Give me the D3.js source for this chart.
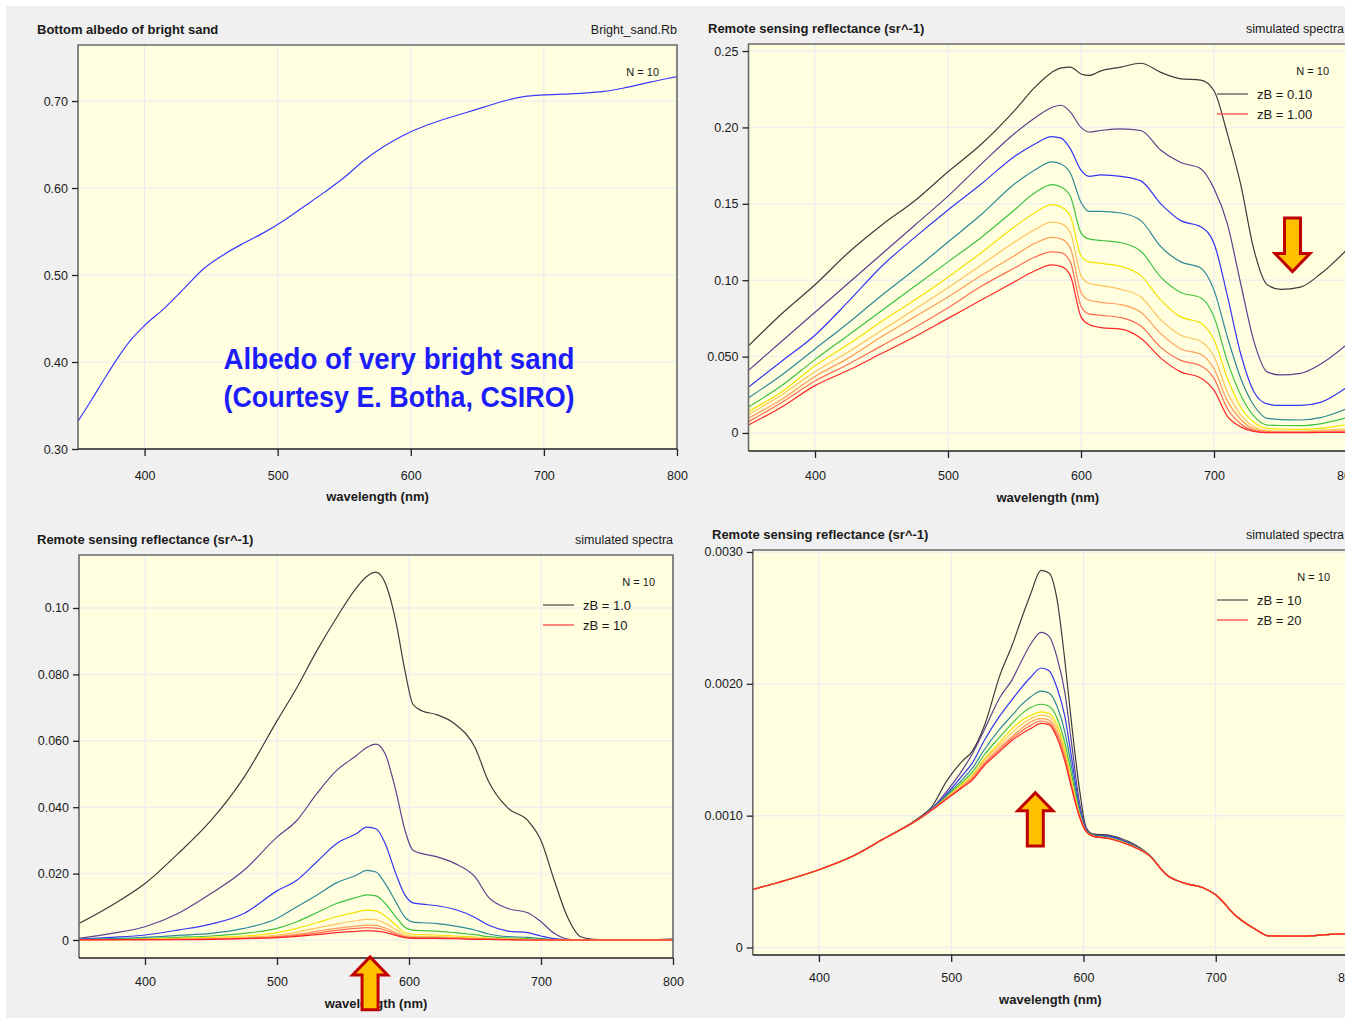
<!DOCTYPE html>
<html><head><meta charset="utf-8">
<script src="https://cdn.jsdelivr.net/npm/d3@7"></script>
<style>
body{margin:0;background:#fff}
svg{display:block}
text{font-family:"Liberation Sans",Arial,sans-serif;fill:#1a1a1a}
</style>
</head><body>
<svg id="chart" width="1345" height="1018"></svg>
<script>
// ---------- shared ----------
const X_TICKS = [400, 500, 600, 700, 800];
const SERIES_COLORS = ["#3c3c3c", "#5f3f8f", "#3535f5", "#2f8898", "#3fc23f",
                       "#f2e200", "#ffc35a", "#ff9c55", "#ff6d52", "#ff2626"];

// ---------- bottom albedo ----------
const ALB_WL = [350, 360, 370, 380, 390, 400, 415, 430, 445, 460, 475, 490, 505, 520, 535, 550,
                565, 580, 595, 610, 625, 640, 655, 670, 685, 700, 715, 730, 745, 760, 775, 790, 800];
const ALB_RB = [0.332, 0.356, 0.381, 0.405, 0.426, 0.442, 0.462, 0.485, 0.508, 0.524, 0.537, 0.549,
                0.563, 0.579, 0.595, 0.612, 0.632, 0.648, 0.661, 0.671, 0.679, 0.686, 0.693, 0.700,
                0.705, 0.707, 0.708, 0.709, 0.711, 0.715, 0.720, 0.725, 0.728];
const ALB_Y_TICKS = [0.30, 0.40, 0.50, 0.60, 0.70];
const ALB_Y_LABELS = ["0.30", "0.40", "0.50", "0.60", "0.70"];

// ---------- Rrs, zB = 0.10 ... 1.00 ----------
const SHALLOW_WL = [350, 375, 400, 425, 450, 475, 500, 525, 550, 565, 578, 585, 592, 600, 606, 615,
                    630, 645, 660, 675, 690, 700, 710, 720, 730, 740, 750, 765, 780, 800];
const SHALLOW_ZB = ["0.10", "0.20", "0.30", "0.40", "0.50", "0.60", "0.70", "0.80", "0.90", "1.00"];
const SHALLOW_1 = [0.057, 0.078, 0.097, 0.118, 0.136, 0.152, 0.171, 0.189, 0.211, 0.226, 0.236, 0.239, 0.2395, 0.235, 0.234, 0.237,
                   0.2395, 0.242, 0.236, 0.2318, 0.231, 0.224, 0.196, 0.163, 0.120, 0.097, 0.094, 0.0955, 0.104, 0.120];
const SHALLOW_2 = [0.041, 0.060, 0.079, 0.098, 0.117, 0.136, 0.155, 0.176, 0.196, 0.206, 0.213, 0.2145, 0.210, 0.200, 0.197, 0.198,
                   0.199, 0.198, 0.185, 0.177, 0.173, 0.160, 0.137, 0.098, 0.060, 0.040, 0.038, 0.039, 0.045, 0.058];
const SHALLOW_3 = [0.030, 0.047, 0.064, 0.086, 0.109, 0.128, 0.146, 0.163, 0.181, 0.189, 0.194, 0.193, 0.186, 0.172, 0.168, 0.169,
                   0.168, 0.165, 0.150, 0.139, 0.135, 0.124, 0.090, 0.052, 0.027, 0.019, 0.018, 0.018, 0.020, 0.030];
const SHALLOW_4 = [0.023, 0.038, 0.055, 0.072, 0.090, 0.107, 0.125, 0.143, 0.163, 0.172, 0.1775, 0.176, 0.170, 0.151, 0.145, 0.145,
                   0.144, 0.139, 0.122, 0.112, 0.108, 0.0935, 0.063, 0.036, 0.018, 0.0096, 0.0088, 0.0085, 0.010, 0.016];
const SHALLOW_5 = [0.017, 0.031, 0.048, 0.064, 0.080, 0.096, 0.112, 0.128, 0.146, 0.157, 0.1625, 0.161, 0.155, 0.131, 0.127, 0.126,
                   0.1245, 0.119, 0.102, 0.092, 0.0885, 0.076, 0.047, 0.025, 0.011, 0.0052, 0.0049, 0.0048, 0.006, 0.010];
const SHALLOW_6 = [0.014, 0.027, 0.044, 0.058, 0.073, 0.087, 0.102, 0.118, 0.135, 0.144, 0.1495, 0.148, 0.142, 0.116, 0.112, 0.111,
                   0.109, 0.103, 0.087, 0.076, 0.072, 0.061, 0.036, 0.017, 0.007, 0.003, 0.0026, 0.0024, 0.003, 0.0055];
const SHALLOW_7 = [0.012, 0.025, 0.040, 0.053, 0.067, 0.081, 0.095, 0.110, 0.125, 0.133, 0.138, 0.137, 0.131, 0.103, 0.098, 0.0965,
                   0.094, 0.089, 0.074, 0.064, 0.060, 0.050, 0.027, 0.012, 0.004, 0.0015, 0.0013, 0.0013, 0.0018, 0.0026];
const SHALLOW_8 = [0.0096, 0.022, 0.037, 0.049, 0.063, 0.076, 0.089, 0.103, 0.116, 0.124, 0.128, 0.127, 0.121, 0.092, 0.087, 0.0855,
                   0.084, 0.079, 0.065, 0.055, 0.0515, 0.042, 0.021, 0.009, 0.0025, 0.0009, 0.0008, 0.0008, 0.001, 0.0014];
const SHALLOW_9 = [0.0074, 0.020, 0.034, 0.045, 0.057, 0.069, 0.082, 0.096, 0.108, 0.115, 0.1185, 0.118, 0.112, 0.083, 0.078, 0.077,
                   0.0755, 0.070, 0.056, 0.0475, 0.044, 0.0357, 0.016, 0.006, 0.0015, 0.0004, 0.0004, 0.0004, 0.0006, 0.0008];
const SHALLOW_10 = [0.0052, 0.017, 0.031, 0.041, 0.052, 0.063, 0.075, 0.087, 0.099, 0.106, 0.110, 0.109, 0.103, 0.076, 0.071, 0.069,
                    0.068, 0.062, 0.049, 0.040, 0.036, 0.028, 0.011, 0.004, 0.001, 0.0002, 0.0002, 0.0002, 0.0003, 0.0004];
const SHALLOW_Y_TICKS = [0, 0.05, 0.10, 0.15, 0.20, 0.25];
const SHALLOW_Y_LABELS = ["0", "0.050", "0.10", "0.15", "0.20", "0.25"];

// ---------- Rrs, zB = 1.0 ... 10 ----------
const MID_WL = [350, 375, 400, 425, 450, 475, 500, 515, 530, 545, 560, 568, 575, 582, 590, 597, 603, 610,
                620, 635, 650, 660, 675, 690, 700, 710, 720, 730, 740, 760, 800];
const MID_ZB = ["1.0", "2.0", "3.0", "4.0", "5.0", "6.0", "7.0", "8.0", "9.0", "10"];
const MID_1 = [0.005, 0.0105, 0.017, 0.026, 0.036, 0.049, 0.066, 0.076, 0.087, 0.097, 0.106, 0.1095, 0.1108, 0.1075, 0.096, 0.081, 0.071, 0.069,
               0.068, 0.065, 0.058, 0.048, 0.0397, 0.036, 0.030, 0.018, 0.007, 0.001, 0.0002, 0.0, 0.0003];
const MID_2 = [0.0005, 0.002, 0.004, 0.008, 0.014, 0.021, 0.031, 0.036, 0.044, 0.051, 0.0555, 0.058, 0.059, 0.056, 0.045, 0.033, 0.027, 0.026,
               0.0252, 0.023, 0.019, 0.013, 0.0095, 0.0082, 0.0055, 0.002, 0.0003, 0.0, 0.0, 0.0, 0.0002];
const MID_3 = [0.0003, 0.0008, 0.0015, 0.003, 0.0048, 0.008, 0.0148, 0.018, 0.0235, 0.029, 0.032, 0.034, 0.0335, 0.029, 0.020, 0.0135, 0.0112, 0.0108,
               0.0104, 0.0092, 0.0068, 0.0045, 0.0027, 0.0022, 0.0012, 0.0004, 0.0001, 0.0, 0.0, 0.0, 0.0001];
const MID_4 = [0.0002, 0.0004, 0.0008, 0.0014, 0.002, 0.0035, 0.0065, 0.010, 0.0135, 0.0172, 0.0195, 0.021, 0.0205, 0.017, 0.0115, 0.0068, 0.0054, 0.0052,
               0.005, 0.0042, 0.003, 0.0018, 0.001, 0.0008, 0.0004, 0.0001, 0.0, 0.0, 0.0, 0.0, 0.0001];
const MID_5 = [0.0001, 0.0002, 0.0004, 0.0008, 0.0012, 0.002, 0.0035, 0.0055, 0.0082, 0.011, 0.0128, 0.0136, 0.0133, 0.011, 0.007, 0.0038, 0.003, 0.0028,
               0.0027, 0.0022, 0.0016, 0.001, 0.0006, 0.0004, 0.0002, 0.0001, 0.0, 0.0, 0.0, 0.0, 0.0];
const MID_6 = [0.0001, 0.0001, 0.0003, 0.0005, 0.0008, 0.0012, 0.0022, 0.0035, 0.0052, 0.0070, 0.0084, 0.009, 0.0088, 0.0072, 0.0045, 0.0022, 0.0017, 0.0016,
               0.0015, 0.0012, 0.0009, 0.0006, 0.0003, 0.0002, 0.0001, 0.0, 0.0, 0.0, 0.0, 0.0, 0.0];
const MID_7 = [0.0001, 0.0001, 0.0002, 0.0003, 0.0005, 0.0008, 0.0015, 0.0024, 0.0036, 0.0048, 0.0058, 0.0062, 0.0061, 0.005, 0.0031, 0.0015, 0.0011, 0.001,
               0.001, 0.0008, 0.0006, 0.0004, 0.0002, 0.0001, 0.0, 0.0, 0.0, 0.0, 0.0, 0.0, 0.0];
const MID_8 = [0.0001, 0.0001, 0.0001, 0.0002, 0.0004, 0.0006, 0.0011, 0.0017, 0.0026, 0.0035, 0.0042, 0.0045, 0.0044, 0.0036, 0.0022, 0.0011, 0.0008, 0.0007,
               0.0007, 0.0006, 0.0004, 0.0003, 0.0002, 0.0001, 0.0, 0.0, 0.0, 0.0, 0.0, 0.0, 0.0];
const MID_9 = [0.0001, 0.0001, 0.0001, 0.0002, 0.0003, 0.0005, 0.0009, 0.0014, 0.0021, 0.0029, 0.0035, 0.0037, 0.0036, 0.003, 0.0018, 0.0009, 0.0007, 0.0006,
               0.0006, 0.0005, 0.0003, 0.0002, 0.0001, 0.0, 0.0, 0.0, 0.0, 0.0, 0.0, 0.0, 0.0];
const MID_10 = [0.0, 0.0001, 0.0001, 0.0001, 0.0002, 0.0004, 0.0007, 0.0011, 0.0016, 0.0022, 0.0026, 0.0028, 0.0027, 0.0023, 0.0014, 0.0007, 0.0005, 0.0005,
                0.0005, 0.0004, 0.0002, 0.0002, 0.0001, 0.0, 0.0, 0.0, 0.0, 0.0, 0.0, 0.0, 0.0];
const MID_Y_TICKS = [0, 0.02, 0.04, 0.06, 0.08, 0.10];
const MID_Y_LABELS = ["0", "0.020", "0.040", "0.060", "0.080", "0.10"];

// ---------- Rrs, zB = 10 ... 20 ----------
const DEEP_WL = [350, 375, 400, 425, 450, 475, 485, 497, 508, 516, 525, 537, 546, 553, 560, 568, 574, 580,
                 586, 591, 597, 602, 607, 620, 635, 650, 663, 678, 690, 700, 715, 730, 740, 765, 787, 800];
const DEEP_ZB = ["10", "11", "12", "13", "14", "16", "17", "18", "19", "20"];
const DEEP_1 = [0.00044, 0.00051, 0.00059, 0.00069, 0.00083, 0.00098, 0.001063, 0.00127, 0.00141, 0.00149, 0.00168, 0.00207, 0.00229, 0.00249, 0.00268, 0.00286, 0.00284, 0.00264,
                0.00217, 0.00170, 0.00120, 0.00091, 0.000862, 0.00085, 0.00080, 0.00070, 0.00055, 0.000483, 0.000455, 0.00040, 0.000243, 0.000138, 0.000088, 0.000086, 0.000099, 0.000106];
const DEEP_2 = [0.00044, 0.00051, 0.00059, 0.00069, 0.00083, 0.000975, 0.00105, 0.00119, 0.00134, 0.00147, 0.00165, 0.00190, 0.00203, 0.00217, 0.00230, 0.00239, 0.00236, 0.00220,
                0.00193, 0.00155, 0.00110, 0.00090, 0.000855, 0.000845, 0.00079, 0.000698, 0.00055, 0.000483, 0.000455, 0.00040, 0.000243, 0.000138, 0.000088, 0.000086, 0.000099, 0.000106];
const DEEP_3 = [0.00044, 0.00051, 0.00059, 0.00069, 0.00083, 0.000972, 0.001045, 0.00117, 0.00130, 0.00140, 0.00157, 0.00176, 0.00188, 0.00197, 0.00205, 0.00212, 0.00210, 0.00197,
                0.00175, 0.00144, 0.00106, 0.00089, 0.00085, 0.00084, 0.000785, 0.000697, 0.00055, 0.000483, 0.000455, 0.00040, 0.000243, 0.000138, 0.000088, 0.000086, 0.000099, 0.000106];
const DEEP_4 = [0.00044, 0.00051, 0.00059, 0.00069, 0.00083, 0.00097, 0.00104, 0.00116, 0.00127, 0.00136, 0.00150, 0.00166, 0.00176, 0.00184, 0.00190, 0.001945, 0.00193, 0.00183,
                0.00163, 0.00137, 0.00104, 0.000885, 0.00085, 0.000835, 0.000782, 0.000696, 0.00055, 0.000483, 0.000455, 0.00040, 0.000243, 0.000138, 0.000088, 0.000086, 0.000099, 0.000106];
const DEEP_5 = [0.00044, 0.00051, 0.00059, 0.00069, 0.00083, 0.00097, 0.00104, 0.00115, 0.00125, 0.00133, 0.00146, 0.00160, 0.00170, 0.00177, 0.00182, 0.001845, 0.00183, 0.00174,
                0.00155, 0.00131, 0.00102, 0.00088, 0.000848, 0.00083, 0.00078, 0.000695, 0.00055, 0.000483, 0.000455, 0.00040, 0.000243, 0.000138, 0.000088, 0.000086, 0.000099, 0.000106];
const DEEP_6 = [0.00044, 0.00051, 0.00059, 0.00069, 0.00083, 0.00097, 0.00104, 0.00114, 0.00124, 0.00131, 0.00143, 0.00156, 0.00166, 0.00172, 0.00176, 0.001787, 0.001775, 0.00169,
                0.00150, 0.00127, 0.00101, 0.00088, 0.000846, 0.000828, 0.000778, 0.000695, 0.00055, 0.000483, 0.000455, 0.00040, 0.000243, 0.000138, 0.000088, 0.000086, 0.000099, 0.000106];
const DEEP_7 = [0.00044, 0.00051, 0.00059, 0.00069, 0.00083, 0.00097, 0.00104, 0.00114, 0.00123, 0.00130, 0.00142, 0.00154, 0.00163, 0.00169, 0.001735, 0.001762, 0.00175, 0.00166,
                0.00147, 0.00125, 0.001005, 0.00088, 0.000845, 0.000827, 0.000777, 0.000695, 0.00055, 0.000483, 0.000455, 0.00040, 0.000243, 0.000138, 0.000088, 0.000086, 0.000099, 0.000106];
const DEEP_8 = [0.00044, 0.00051, 0.00059, 0.00069, 0.00083, 0.00097, 0.00104, 0.001135, 0.00122, 0.00129, 0.00140, 0.00152, 0.00160, 0.00166, 0.00171, 0.001736, 0.001725, 0.00163,
                0.00145, 0.00123, 0.00100, 0.00088, 0.000845, 0.000826, 0.000776, 0.000695, 0.00055, 0.000483, 0.000455, 0.00040, 0.000243, 0.000138, 0.000088, 0.000086, 0.000099, 0.000106];
const DEEP_9 = [0.00044, 0.00051, 0.00059, 0.00069, 0.00083, 0.00097, 0.00104, 0.00113, 0.001215, 0.00128, 0.00139, 0.001505, 0.001585, 0.00164, 0.001685, 0.001718, 0.001705, 0.00161,
                0.00143, 0.00122, 0.000995, 0.00088, 0.000845, 0.000825, 0.000775, 0.000695, 0.00055, 0.000483, 0.000455, 0.00040, 0.000243, 0.000138, 0.000088, 0.000086, 0.000099, 0.000106];
const DEEP_10 = [0.00044, 0.00051, 0.00059, 0.00069, 0.00083, 0.00097, 0.00104, 0.00113, 0.00121, 0.00127, 0.00138, 0.00149, 0.00157, 0.00162, 0.00166, 0.00170, 0.00169, 0.00159,
                 0.00141, 0.00121, 0.00099, 0.00088, 0.000845, 0.000825, 0.000775, 0.000695, 0.00055, 0.000483, 0.000455, 0.00040, 0.000243, 0.000138, 0.000088, 0.000086, 0.000099, 0.000106];
const DEEP_Y_TICKS = [0, 0.001, 0.002, 0.003];
const DEEP_Y_LABELS = ["0", "0.0010", "0.0020", "0.0030"];

// ---------- drawing ----------
const svg = d3.select("#chart");
svg.append("rect").attr("x", 6).attr("y", 6).attr("width", 1345).attr("height", 1018).attr("fill", "#f0f0f0");

const lineGen = (x, y) => d3.line().x(d => x(d[0])).y(d => y(d[1])).curve(d3.curveMonotoneX);

let clipId = 0;
function panel(o) {
  const g = svg.append("g");
  const x = d3.scaleLinear().domain([350, 800]).range([o.left, o.right]);
  const y = d3.scaleLinear().domain(o.yDomain).range([o.bottom, o.top]);
  const w = o.right - o.left, h = o.bottom - o.top;

  g.append("rect").attr("x", o.left).attr("y", o.top).attr("width", w).attr("height", h).attr("fill", "#ffffe0");

  // grid
  g.append("g").selectAll("line").data(X_TICKS).join("line")
    .attr("x1", d => x(d)).attr("x2", d => x(d)).attr("y1", o.top).attr("y2", o.bottom)
    .attr("stroke", "#e5eaf3").attr("stroke-width", 1);
  g.append("g").selectAll("line").data(o.yTicks).join("line")
    .attr("x1", o.left).attr("x2", o.right).attr("y1", d => y(d)).attr("y2", d => y(d))
    .attr("stroke", "#eef0ee").attr("stroke-width", 1.5);

  // curves
  const cid = "clip" + (clipId++);
  g.append("clipPath").attr("id", cid).append("rect")
    .attr("x", o.left).attr("y", o.top).attr("width", w).attr("height", h);
  const lg = g.append("g").attr("clip-path", `url(#${cid})`);
  o.series.forEach((vals, i) => {
    const pts = o.wl.map((wv, k) => [wv, vals[k]]);
    lg.append("path").attr("d", lineGen(x, y)(pts)).attr("fill", "none")
      .attr("stroke", o.colors[i]).attr("stroke-width", o.lineWidth || 1.2)
      .attr("stroke-linejoin", "round");
  });

  // frame
  g.append("path").attr("d", `M${o.left},${o.bottom}V${o.top}H${o.right}V${o.bottom}`)
    .attr("fill", "none").attr("stroke", "#6a6a6a").attr("stroke-width", 1.6);
  g.append("line").attr("x1", o.left).attr("x2", o.right).attr("y1", o.bottom).attr("y2", o.bottom)
    .attr("stroke", "#222").attr("stroke-width", 1.6);

  // axes
  const xa = g.append("g").attr("transform", `translate(0,${o.bottom})`)
    .call(d3.axisBottom(x).tickValues(X_TICKS).tickSize(7).tickPadding(o.xPad).tickFormat(d3.format("d")));
  const ya = g.append("g").attr("transform", `translate(${o.left},0)`)
    .call(d3.axisLeft(y).tickValues(o.yTicks).tickSize(6).tickPadding(4).tickFormat((d, i) => o.yLabels[i]));
  [xa, ya].forEach(a => {
    a.select(".domain").remove();
    a.selectAll("line").attr("stroke", "#222").attr("stroke-width", 1.3);
    a.selectAll("text").attr("font-size", 12.5).attr("fill", "#1a1a1a")
      .attr("font-family", "'Liberation Sans', Arial, sans-serif");
  });

  g.append("text").attr("x", (o.left + o.right) / 2).attr("y", o.bottom + o.xTitleGap)
    .attr("text-anchor", "middle").attr("font-weight", "bold").attr("font-size", 13)
    .text("wavelength (nm)");

  // titles
  g.append("text").attr("x", o.titleX).attr("y", o.top - 11).attr("font-weight", "bold")
    .attr("font-size", 13).text(o.title);
  g.append("text").attr("x", Math.min(o.right, 1344)).attr("y", o.top - 11).attr("text-anchor", "end")
    .attr("font-size", 12.5).text(o.subtitle);

  // legend
  g.append("text").attr("x", o.right - 18).attr("y", o.top + 31).attr("text-anchor", "end")
    .attr("font-size", 11).text("N = 10");
  if (o.legend) {
    o.legend.forEach((lab, i) => {
      const ly = o.top + 50 + i * 20;
      g.append("line").attr("x1", o.legendX).attr("x2", o.legendX + 31).attr("y1", ly).attr("y2", ly)
        .attr("stroke", i === 0 ? "#555" : "#ff4a4a").attr("stroke-width", 1.3);
      g.append("text").attr("x", o.legendX + 40).attr("y", ly + 5).attr("font-size", 13).text(lab);
    });
  }

  // arrow marker
  if (o.arrow) {
    const a = o.arrow;
    const cx = x(a.wl), yBase = y(a.base), yTip = y(a.tip);
    const dir = yTip > yBase ? 1 : -1;
    const headLen = 18, hw = 17.5, sw = 8;
    const yNeck = yTip - dir * headLen;
    const p = d3.path();
    p.moveTo(cx - sw, yBase); p.lineTo(cx + sw, yBase); p.lineTo(cx + sw, yNeck);
    p.lineTo(cx + hw, yNeck); p.lineTo(cx, yTip); p.lineTo(cx - hw, yNeck);
    p.lineTo(cx - sw, yNeck); p.closePath();
    g.append("path").attr("d", p.toString()).attr("fill", "#ffc000")
      .attr("stroke", "#c00000").attr("stroke-width", 3).attr("stroke-linejoin", "miter");
  }
  return {g, x, y};
}

// bottom albedo panel
const p1 = panel({
  left: 78, right: 677, top: 45, bottom: 449, yDomain: [0.30, 0.7644], xPad: 15.5, xTitleGap: 52,
  yTicks: ALB_Y_TICKS, yLabels: ALB_Y_LABELS, wl: ALB_WL, series: [ALB_RB], colors: ["#3a3aff"],
  lineWidth: 1.2, title: "Bottom albedo of bright sand", subtitle: "Bright_sand.Rb", titleX: 37
});
p1.g.append("g").selectAll("text")
  .data(["Albedo of very bright sand", "(Courtesy E. Botha, CSIRO)"]).join("text")
  .attr("x", 399).attr("y", (d, i) => 369 + i * 38).attr("text-anchor", "middle")
  .attr("textLength", 351).attr("lengthAdjust", "spacingAndGlyphs")
  .attr("font-family", "Lato, 'Open Sans', sans-serif").attr("font-weight", "bold")
  .attr("font-size", 29).style("fill", "#1d1dfb").text(d => d);

panel({
  left: 748.5, right: 1347, top: 44, bottom: 451, yDomain: [-0.0118, 0.2546], xPad: 13.5, xTitleGap: 51,
  yTicks: SHALLOW_Y_TICKS, yLabels: SHALLOW_Y_LABELS, wl: SHALLOW_WL,
  series: [SHALLOW_1, SHALLOW_2, SHALLOW_3, SHALLOW_4, SHALLOW_5, SHALLOW_6, SHALLOW_7, SHALLOW_8, SHALLOW_9, SHALLOW_10],
  colors: SERIES_COLORS, title: "Remote sensing reflectance (sr^-1)", subtitle: "simulated spectra", titleX: 708,
  legend: ["zB = " + SHALLOW_ZB[0], "zB = " + SHALLOW_ZB[9]], legendX: 1217,
  arrow: {wl: 759, base: 0.1407, tip: 0.1057}
});

panel({
  left: 79, right: 673, top: 555, bottom: 958, yDomain: [-0.00542, 0.11596], xPad: 12.5, xTitleGap: 50,
  yTicks: MID_Y_TICKS, yLabels: MID_Y_LABELS, wl: MID_WL,
  series: [MID_1, MID_2, MID_3, MID_4, MID_5, MID_6, MID_7, MID_8, MID_9, MID_10],
  colors: SERIES_COLORS, title: "Remote sensing reflectance (sr^-1)", subtitle: "simulated spectra", titleX: 37,
  legend: ["zB = " + MID_ZB[0], "zB = " + MID_ZB[9]], legendX: 543,
  arrow: {wl: 570.5, base: -0.0210, tip: -0.0051}
});

panel({
  left: 752.8, right: 1348, top: 550, bottom: 955, yDomain: [-0.0000569, 0.003015], xPad: 11.5, xTitleGap: 49,
  yTicks: DEEP_Y_TICKS, yLabels: DEEP_Y_LABELS, wl: DEEP_WL,
  series: [DEEP_1, DEEP_2, DEEP_3, DEEP_4, DEEP_5, DEEP_6, DEEP_7, DEEP_8, DEEP_9, DEEP_10],
  colors: SERIES_COLORS, title: "Remote sensing reflectance (sr^-1)", subtitle: "simulated spectra", titleX: 712,
  legend: ["zB = " + DEEP_ZB[0], "zB = " + DEEP_ZB[9]], legendX: 1217,
  arrow: {wl: 563.6, base: 0.00077, tip: 0.001174}
});
</script>
</body></html>
